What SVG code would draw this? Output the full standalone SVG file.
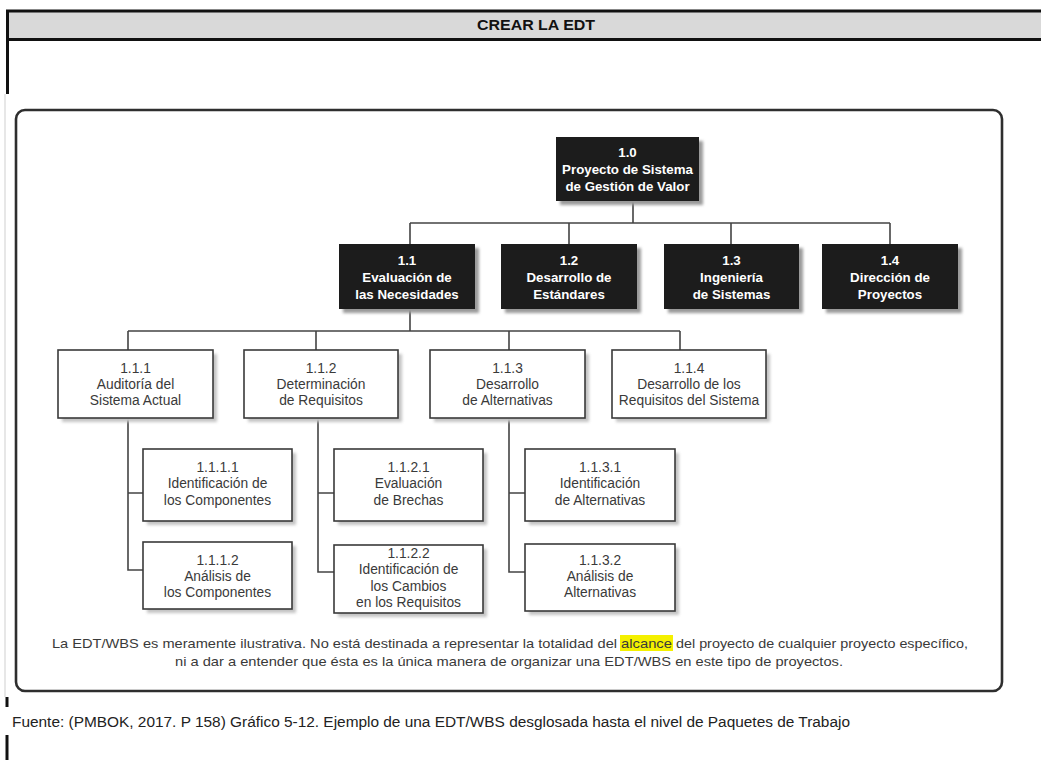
<svg xmlns="http://www.w3.org/2000/svg" width="1041" height="760" viewBox="0 0 1041 760">
  <defs>
    <filter id="soft" x="-10%" y="-10%" width="120%" height="120%">
      <feGaussianBlur stdDeviation="1.4"/>
    </filter>
  </defs>
  <style>
    .hdr { font-family: "Liberation Sans", Arial, sans-serif; font-weight: bold; font-size: 15px; fill: #111; }
    .dark { fill: #1c1c1c; }
    .dshadow { fill: #9a9a9a; filter: url(#soft); }
    .lshadow { fill: #c4c4c4; filter: url(#soft); }
    .light { fill: #ffffff; stroke: #3a3a3a; stroke-width: 1.6; }
    .wt { font-family: "Liberation Sans", Arial, sans-serif; font-weight: bold; font-size: 13.3px; fill: #ffffff; text-anchor: middle; }
    .bt { font-family: "Liberation Sans", Arial, sans-serif; font-size: 13.8px; fill: #3a3a3a; text-anchor: middle; }
    .conn { fill: none; stroke: #444; stroke-width: 1.6; }
    .note { font-family: "Liberation Sans", Arial, sans-serif; font-size: 13px; fill: #3a3a3a; }
    .src { font-family: "Liberation Sans", Arial, sans-serif; font-size: 14px; fill: #222; }
  </style>

  <rect width="1041" height="760" fill="#ffffff"/>

  <!-- title band -->
  <g id="title">
    <rect x="6" y="11" width="1035" height="28" fill="#d9d9d9"/>
    <line x1="6" y1="11" x2="1041" y2="11" stroke="#111" stroke-width="3"/>
    <line x1="6" y1="39.5" x2="1041" y2="39.5" stroke="#111" stroke-width="3"/>
    <line x1="7.5" y1="10" x2="7.5" y2="94" stroke="#111" stroke-width="3"/>
    <text class="hdr" x="477" y="30" textLength="118" lengthAdjust="spacingAndGlyphs">CREAR LA EDT</text>
  </g>

  <!-- page margin rules -->
  <line x1="5" y1="94" x2="5" y2="697" stroke="#cfcfcf" stroke-width="1"/>
  <line x1="7" y1="697" x2="7" y2="707" stroke="#111" stroke-width="3"/>
  <line x1="7" y1="735" x2="7" y2="760" stroke="#111" stroke-width="3"/>

  <!-- figure frame -->
  <rect x="16" y="110" width="986" height="581" rx="9" ry="9" fill="none" stroke="#2e2e2e" stroke-width="2.6"/>

  <g id="connectors">
    <path class="conn" d="M633 201 V223 M410 223 H890 M410 223 V244 M569 223 V244 M731 223 V244 M890 223 V244"/>
    <path class="conn" d="M410 309 V331 M128 331 H680 M128 331 V350 M316 331 V350 M509 331 V350 M680 331 V350"/>
    <path class="conn" d="M128 418 V570 H143 M128 493 H143"/>
    <path class="conn" d="M318 418 V572 H334 M318 493 H334"/>
    <path class="conn" d="M509 418 V572 H525 M509 493 H525"/>
  </g>

  <g id="n1_0">
    <rect class="dshadow" x="560" y="141" width="143" height="64"/>
    <rect class="dark" x="556" y="137" width="143" height="64"/>
    <text class="wt" x="627.5" y="157">1.0</text>
    <text class="wt" x="627.5" y="174">Proyecto de Sistema</text>
    <text class="wt" x="627.5" y="191">de Gestión de Valor</text>
  </g>

  <g id="n1_1">
    <rect class="dshadow" x="343" y="248" width="136" height="65"/>
    <rect class="dark" x="339" y="244" width="136" height="65"/>
    <text class="wt" x="407" y="265">1.1</text>
    <text class="wt" x="407" y="282">Evaluación de</text>
    <text class="wt" x="407" y="299">las Necesidades</text>
  </g>

  <g id="n1_2">
    <rect class="dshadow" x="505" y="248" width="136" height="65"/>
    <rect class="dark" x="501" y="244" width="136" height="65"/>
    <text class="wt" x="569" y="265">1.2</text>
    <text class="wt" x="569" y="282">Desarrollo de</text>
    <text class="wt" x="569" y="299">Estándares</text>
  </g>

  <g id="n1_3">
    <rect class="dshadow" x="668" y="248" width="135" height="65"/>
    <rect class="dark" x="664" y="244" width="135" height="65"/>
    <text class="wt" x="731.5" y="265">1.3</text>
    <text class="wt" x="731.5" y="282">Ingeniería</text>
    <text class="wt" x="731.5" y="299">de Sistemas</text>
  </g>

  <g id="n1_4">
    <rect class="dshadow" x="826" y="248" width="136" height="65"/>
    <rect class="dark" x="822" y="244" width="136" height="65"/>
    <text class="wt" x="890" y="265">1.4</text>
    <text class="wt" x="890" y="282">Dirección de</text>
    <text class="wt" x="890" y="299">Proyectos</text>
  </g>

  <g id="n1_1_1">
    <rect class="lshadow" x="62" y="354" width="155" height="68"/>
    <rect class="light" x="58" y="350" width="155" height="68"/>
    <text class="bt" x="135.5" y="373">1.1.1</text>
    <text class="bt" x="135.5" y="389">Auditoría del</text>
    <text class="bt" x="135.5" y="405">Sistema Actual</text>
  </g>

  <g id="n1_1_2">
    <rect class="lshadow" x="248" y="354" width="154" height="68"/>
    <rect class="light" x="244" y="350" width="154" height="68"/>
    <text class="bt" x="321" y="373">1.1.2</text>
    <text class="bt" x="321" y="389">Determinación</text>
    <text class="bt" x="321" y="405">de Requisitos</text>
  </g>

  <g id="n1_1_3">
    <rect class="lshadow" x="434" y="354" width="155" height="68"/>
    <rect class="light" x="430" y="350" width="155" height="68"/>
    <text class="bt" x="507.5" y="373">1.1.3</text>
    <text class="bt" x="507.5" y="389">Desarrollo</text>
    <text class="bt" x="507.5" y="405">de Alternativas</text>
  </g>

  <g id="n1_1_4">
    <rect class="lshadow" x="616" y="354" width="154" height="68"/>
    <rect class="light" x="612" y="350" width="154" height="68"/>
    <text class="bt" x="689" y="373">1.1.4</text>
    <text class="bt" x="689" y="389">Desarrollo de los</text>
    <text class="bt" x="689" y="405">Requisitos del Sistema</text>
  </g>

  <g id="n1_1_1_1">
    <rect class="lshadow" x="147" y="453" width="149" height="72"/>
    <rect class="light" x="143" y="449" width="149" height="72"/>
    <text class="bt" x="217.5" y="472">1.1.1.1</text>
    <text class="bt" x="217.5" y="488">Identificación de</text>
    <text class="bt" x="217.5" y="505">los Componentes</text>
  </g>

  <g id="n1_1_1_2">
    <rect class="lshadow" x="147" y="546" width="149" height="67"/>
    <rect class="light" x="143" y="542" width="149" height="67"/>
    <text class="bt" x="217.5" y="565">1.1.1.2</text>
    <text class="bt" x="217.5" y="581">Análisis de</text>
    <text class="bt" x="217.5" y="597">los Componentes</text>
  </g>

  <g id="n1_1_2_1">
    <rect class="lshadow" x="338" y="453" width="149" height="72"/>
    <rect class="light" x="334" y="449" width="149" height="72"/>
    <text class="bt" x="408.5" y="472">1.1.2.1</text>
    <text class="bt" x="408.5" y="488">Evaluación</text>
    <text class="bt" x="408.5" y="505">de Brechas</text>
  </g>

  <g id="n1_1_2_2">
    <rect class="lshadow" x="338" y="549" width="149" height="68"/>
    <rect class="light" x="334" y="545" width="149" height="68"/>
    <text class="bt" x="408.5" y="558">1.1.2.2</text>
    <text class="bt" x="408.5" y="574">Identificación de</text>
    <text class="bt" x="408.5" y="591">los Cambios</text>
    <text class="bt" x="408.5" y="607">en los Requisitos</text>
  </g>

  <g id="n1_1_3_1">
    <rect class="lshadow" x="529" y="453" width="150" height="72"/>
    <rect class="light" x="525" y="449" width="150" height="72"/>
    <text class="bt" x="600" y="472">1.1.3.1</text>
    <text class="bt" x="600" y="488">Identificación</text>
    <text class="bt" x="600" y="505">de Alternativas</text>
  </g>

  <g id="n1_1_3_2">
    <rect class="lshadow" x="529" y="548" width="150" height="67"/>
    <rect class="light" x="525" y="544" width="150" height="67"/>
    <text class="bt" x="600" y="565">1.1.3.2</text>
    <text class="bt" x="600" y="581">Análisis de</text>
    <text class="bt" x="600" y="597">Alternativas</text>
  </g>

  <!-- disclaimer -->
  <g id="note">
    <rect x="620" y="635" width="53" height="16" fill="#f4f000"/>
    <text class="note" x="52" y="648" textLength="565" lengthAdjust="spacingAndGlyphs">La EDT/WBS es meramente ilustrativa. No está destinada a representar la totalidad del</text>
    <text class="note" x="621" y="648" textLength="51" lengthAdjust="spacingAndGlyphs">alcance</text>
    <text class="note" x="676" y="648" textLength="292" lengthAdjust="spacingAndGlyphs">del proyecto de cualquier proyecto específico,</text>
    <text class="note" x="175" y="666" textLength="668" lengthAdjust="spacingAndGlyphs">ni a dar a entender que ésta es la única manera de organizar una EDT/WBS en este tipo de proyectos.</text>
  </g>

  <text class="src" x="12" y="727" textLength="838" lengthAdjust="spacingAndGlyphs">Fuente: (PMBOK, 2017. P 158) Gráfico 5-12. Ejemplo de una EDT/WBS desglosada hasta el nivel de Paquetes de Trabajo</text>
</svg>
